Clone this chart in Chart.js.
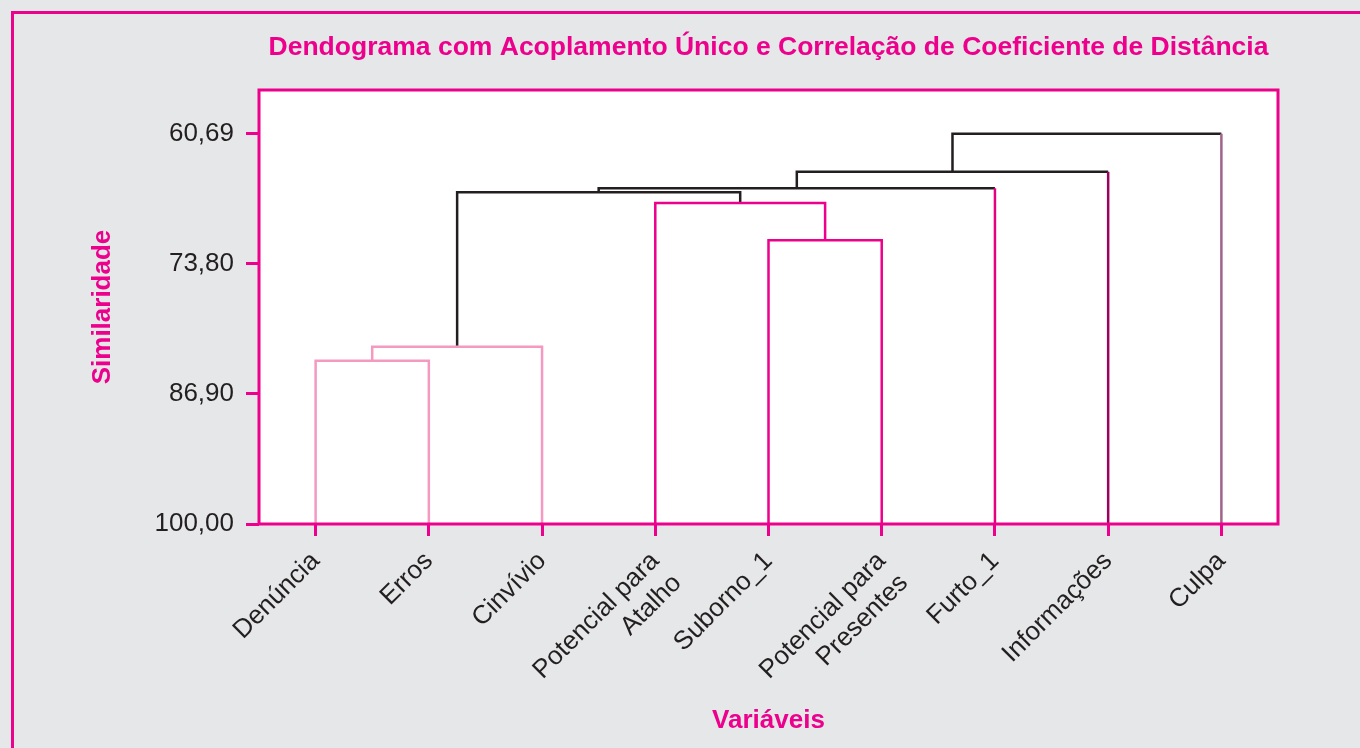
<!DOCTYPE html>
<html><head><meta charset="utf-8">
<script src="https://cdn.jsdelivr.net/npm/chart.js@4/dist/chart.umd.min.js"></script>
<style>
html,body{margin:0;padding:0;background:#e6e7e8;overflow:hidden;width:1360px;height:748px;}
#frame{position:absolute;left:11px;top:11px;width:1400px;height:800px;border:3px solid #ec008c;box-sizing:border-box;}
#wrap{position:absolute;left:0;top:0;width:1360px;height:748px;}
</style></head><body>
<div id="frame"></div>
<div id="wrap"><canvas id="c" width="1360" height="748"></canvas></div>
<script>
// ---- data ----
const variables = [["Denúncia"],["Erros"],["Cinvívio"],["Potencial para","Atalho"],["Suborno_1"],["Potencial para","Presentes"],["Furto_1"],["Informações"],["Culpa"]];
const leafColors = ["#f49ac1","#f49ac1","#f49ac1","#ec008c","#ec008c","#ec008c","#e4007f","#9e005d","#a0648a"];
// linkage: node ids 0..8 are leaves, merge k creates node 9+k
const mergeLeft = [0, 9, 4, 3, 10, 13, 14, 15];
const mergeRight = [1, 2, 5, 11, 12, 6, 7, 8];
const mergeSimilarity = [83.55, 82.14, 71.43, 67.67, 66.59, 66.19, 64.52, 60.69];
const mergeColors = ["#f49ac1","#f49ac1","#ec008c","#ec008c","#231f20","#231f20","#231f20","#231f20"];
const yTickValues = [60.69, 73.80, 86.90, 100.00];

const MAG = "#ec008c", INK = "#231f20";
const FONT = "'Liberation Sans', Arial, Helvetica, sans-serif";

// ---- build dendrogram links ----
const nodeX = variables.map((_, i) => i);
const nodeH = variables.map(() => 100);
const datasets = [];
mergeLeft.forEach((l, k) => {
  const r = mergeRight[k], h = mergeSimilarity[k], c = mergeColors[k];
  const xl = nodeX[l], xr = nodeX[r];
  const cl = l < variables.length ? leafColors[l] : c;
  const cr = r < variables.length ? leafColors[r] : c;
  const segCols = [cl, c, cr];
  datasets.push({
    data: [{x: xl, y: nodeH[l]}, {x: xl, y: h}, {x: xr, y: h}, {x: xr, y: nodeH[r]}],
    borderColor: c,
    borderWidth: 2.5,
    pointRadius: 0,
    tension: 0,
    showLine: true,
    borderJoinStyle: 'miter',
    segment: { borderColor: ctx => segCols[ctx.p0DataIndex] }
  });
  nodeX.push((xl + xr) / 2);
  nodeH.push(h);
});

const framePlugin = {
  id: 'framePlugin',
  beforeDraw(chart) {
    const {ctx, chartArea: a} = chart;
    ctx.save();
    ctx.fillStyle = '#ffffff';
    ctx.fillRect(a.left, a.top, a.right - a.left, a.bottom - a.top);
    ctx.restore();
  },
  afterDraw(chart) {
    const {ctx, chartArea: a} = chart;
    ctx.save();
    ctx.strokeStyle = MAG;
    ctx.lineWidth = 3;
    ctx.strokeRect(a.left, a.top, a.right - a.left, a.bottom - a.top);
    ctx.fillStyle = MAG;
    ctx.textAlign = 'center';
    ctx.textBaseline = 'middle';
    const cx = (a.left + a.right) / 2;
    ctx.font = "bold 26.5px " + FONT;
    ctx.fillText("Dendograma com Acoplamento Único e Correlação de Coeficiente de Distância", cx, 48);
    ctx.font = "bold 26px " + FONT;
    ctx.fillText("Variáveis", cx, 721);
    ctx.translate(103, (a.top + a.bottom) / 2);
    ctx.rotate(-Math.PI / 2);
    ctx.fillText("Similaridade", 0, 0);
    ctx.restore();
  }
};

new Chart(document.getElementById('c'), {
  type: 'scatter',
  data: { datasets },
  plugins: [framePlugin],
  options: {
    responsive: false,
    animation: false,
    events: [],
    layout: { padding: { left: 0, top: 90, right: 82, bottom: 0 } },
    plugins: { legend: { display: false }, tooltip: { enabled: false }, title: { display: false } },
    scales: {
      x: {
        type: 'linear', min: -0.5, max: 8.5,
        afterBuildTicks: s => { s.ticks = variables.map((_, i) => ({ value: i })); },
        afterFit: s => { s.height = 224; },
        ticks: {
          autoSkip: false, minRotation: 45, maxRotation: 45,
          callback: v => variables[v],
          color: INK, font: { family: FONT, size: 26 }, padding: 10
        },
        grid: { drawOnChartArea: false, drawTicks: true, tickLength: 12, tickColor: MAG, tickWidth: 3 },
        border: { display: false }
      },
      y: {
        type: 'linear', reverse: true, min: 56.29, max: 100,
        afterBuildTicks: s => { s.ticks = yTickValues.map(v => ({ value: v })); },
        afterFit: s => { s.width = 259; },
        ticks: {
          callback: v => v.toFixed(2).replace('.', ','),
          color: INK, font: { family: FONT, size: 26 }, padding: 12
        },
        grid: { drawOnChartArea: false, drawTicks: true, tickLength: 13, tickColor: MAG, tickWidth: 3 },
        border: { display: false }
      }
    }
  }
});
</script>
</body></html>
